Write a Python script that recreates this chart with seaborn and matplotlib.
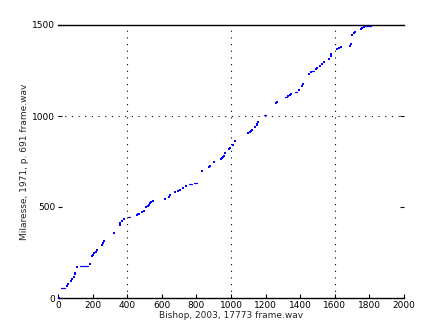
import matplotlib
matplotlib.use("Agg")
import matplotlib.pyplot as plt
import seaborn as sns
import pandas as pd

# isolated points (Bishop frame, Milaresse frame)
pt_x = [6, 50, 60, 73, 83, 92, 100, 100, 112, 187, 195, 202, 210, 218, 227, 252, 258, 268,
        325, 360, 360, 372, 383, 455, 462, 470, 487, 495, 510, 518, 526, 534, 539, 547,
        620, 642, 649, 676, 692, 705, 725, 740, 834, 834, 875, 880, 903,
        944, 950, 955, 961, 967, 987, 992, 1013, 1025,
        1100, 1110, 1116, 1121, 1140, 1148, 1152, 1156, 1260, 1266, 1332, 1339, 1345,
        1395, 1410, 1418, 1453, 1461, 1491, 1499, 1514, 1526, 1538, 1565, 1580, 1580,
        1615, 1626, 1638, 1686, 1694, 1701, 1711, 1719, 1751, 1759, 1767]
pt_y = [2, 64, 75, 93, 104, 117, 132, 139, 169, 187, 231, 236, 245, 254, 264, 293, 304, 312,
        355, 401, 410, 425, 432, 454, 460, 463, 472, 478, 498, 506, 513, 520, 526, 531,
        542, 557, 564, 582, 588, 593, 604, 614, 697, 700, 718, 727, 746,
        762, 767, 775, 782, 795, 817, 824, 842, 864,
        905, 914, 919, 925, 941, 949, 958, 965, 1070, 1077, 1108, 1115, 1121,
        1143, 1163, 1174, 1233, 1242, 1259, 1265, 1276, 1287, 1296, 1313, 1331, 1339,
        1370, 1376, 1381, 1385, 1396, 1445, 1454, 1462, 1478, 1484, 1489]

# flat runs (start x, end x, y)
run_x0 = [19, 129, 406, 757, 786, 1192, 1314, 1372, 1462, 1775]
run_x1 = [40, 173, 418, 774, 803, 1202, 1326, 1384, 1482, 1809]
run_y = [53, 174, 443, 624, 632, 1004, 1103, 1132, 1250, 1495]

x_ticks = [0, 200, 400, 600, 800, 1000, 1200, 1400, 1600, 1800, 2000]
y_ticks = [0, 500, 1000, 1500]
x_grid = [400, 1000, 1600]
y_grid = [1000]
x_label = "Bishop, 2003, 17773 frame.wav"
y_label = "Milaresse, 1971, p. 691 frame.wav"

sns.set_style("white")
plt.rcParams['font.family'] = ['DejaVu Sans']

fig = plt.figure(figsize=(4.47, 3.35), dpi=100)
ax = fig.add_axes([58/447, 1 - 298/335, (404-58)/447, (298-25)/335])

pts = pd.DataFrame({"x": pt_x, "y": pt_y})
runs = pd.DataFrame({
    "x": run_x0 + run_x1,
    "y": run_y + run_y,
    "seg": list(range(len(run_y))) * 2,
})

for gx in x_grid:
    ax.axvline(gx, color="black", lw=0.8, ls=(0, (1, 5)), zorder=1)
for gy in y_grid:
    ax.axhline(gy, color="black", lw=0.8, ls=(0, (1, 5)), zorder=1)

sns.lineplot(data=runs, x="x", y="y", units="seg", estimator=None, color="blue",
             lw=0.9, ax=ax, legend=False, zorder=3)
sns.scatterplot(data=pts, x="x", y="y", color="blue", marker="s", s=0.9,
                linewidth=0, ax=ax, legend=False, zorder=3)

ax.set_xlim(0, 2000)
ax.set_ylim(0, 1500)
ax.set_xticks(x_ticks)
ax.set_yticks(y_ticks)
ax.tick_params(axis="both", direction="in", length=3, width=0.8, labelsize=6.5, pad=2,
               colors="black")
ax.tick_params(axis="y", right=True, left=True)
ax.tick_params(axis="x", bottom=True, top=False)
for side in ["left", "right"]:
    ax.spines[side].set_visible(False)
for side in ["top", "bottom"]:
    ax.spines[side].set_visible(True)
    ax.spines[side].set_color("black")
    ax.spines[side].set_linewidth(1.0)

ax.set_xlabel(x_label, fontsize=6.5, labelpad=1)
ax.set_ylabel(y_label, fontsize=6.5, labelpad=2)

fig.savefig("out.png", dpi=100)
